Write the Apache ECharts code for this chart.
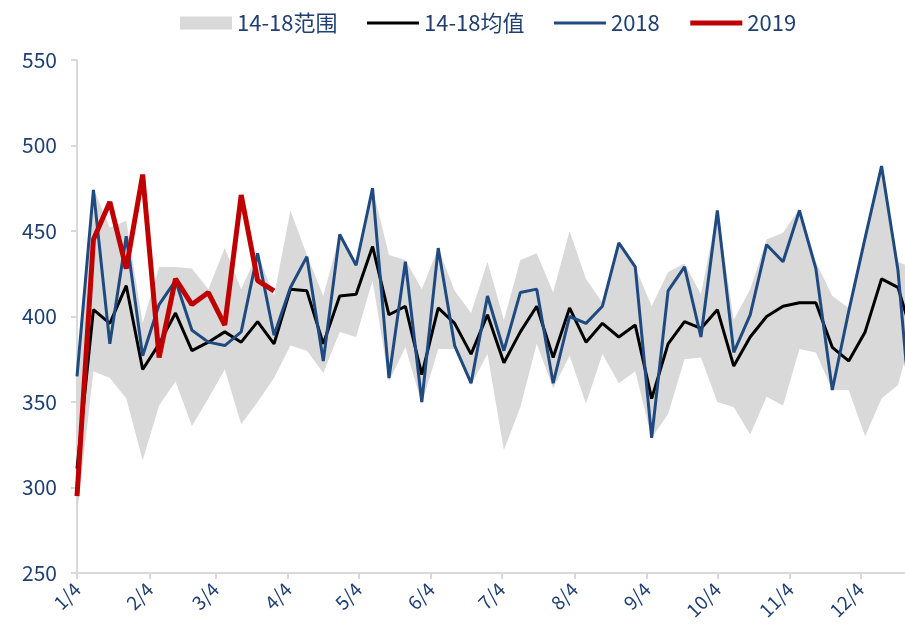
<!DOCTYPE html>
<html>
<head>
<meta charset="utf-8">
<script src="https://cdn.jsdelivr.net/npm/echarts@6/dist/echarts.min.js"></script>
<style>
  html, body { margin: 0; padding: 0; background: #fff; }
  #chart { width: 905px; height: 632px; }
</style>
</head>
<body>
<div id="chart"></div>
<script>
// days since 1/4, one point per week
const weekDays = [0, 7, 14, 21, 28, 35, 42, 49, 56, 63, 70, 77, 84, 91, 98, 105, 112, 119, 126, 133,
  140, 147, 154, 161, 168, 175, 182, 189, 196, 203, 210, 217, 224, 231, 238, 245, 252, 259, 266, 273,
  280, 287, 294, 301, 308, 315, 322, 329, 336, 343, 350, 357];
const monthDays = [0, 31, 59, 90, 120, 151, 181, 212, 243, 273, 304, 334];
const monthLabels = ["1/4", "2/4", "3/4", "4/4", "5/4", "6/4", "7/4", "8/4", "9/4", "10/4", "11/4", "12/4"];

const rangeMax = [366, 475, 452, 456, 396, 429, 429, 428, 416, 440, 416, 437, 412, 462, 436, 412, 448, 432, 475, 436,
  433, 416, 440, 415, 402, 432, 398, 433, 437, 414, 450, 422, 408, 443, 429, 406, 426, 431, 413, 462,
  398, 416, 445, 449, 463, 432, 412, 405, 446, 488, 432, 428];
const rangeMin = [284, 368, 364, 352, 316, 348, 362, 336, 352, 369, 337, 350, 364, 383, 380, 367, 391, 388, 421, 362,
  382, 349, 381, 381, 360, 378, 322, 347, 384, 358, 377, 349, 378, 361, 368, 329, 343, 375, 376, 350,
  347, 331, 353, 348, 381, 379, 357, 357, 330, 352, 360, 395];
const avg1418 = [311, 404, 396, 418, 369, 384, 402, 380, 385, 391, 385, 397, 384, 416, 415, 384, 412, 413, 441, 401,
  406, 366, 405, 396, 378, 401, 373, 391, 406, 376, 405, 385, 396, 388, 395, 352, 384, 397, 393, 404,
  371, 388, 400, 406, 408, 408, 382, 374, 391, 422, 417, 385];
const y2018 = [365, 474, 384, 447, 377, 407, 421, 392, 385, 383, 391, 437, 389, 417, 435, 374, 448, 430, 475, 364,
  432, 350, 440, 383, 361, 412, 380, 414, 416, 361, 400, 396, 406, 443, 429, 329, 415, 429, 388, 462,
  379, 401, 442, 432, 462, 428, 357, 403, 446, 488, 427, 318];
const y2019 = [295, 445, 467, 428, 483, 376, 422, 407, 414, 395, 471, 421, 415];

const textColor = "#1F3F73";
const axisColor = "#D9D9D9";

const pair = (vals) => vals.map((v, i) => [weekDays[i], v]);

// band between min and max, one polygon drawn with the axis scales
const renderBand = (params, api) => {
  if (params.dataIndex !== 0) return null;
  const top = rangeMax.map((v, i) => api.coord([weekDays[i], v]));
  const bottom = rangeMin.map((v, i) => api.coord([weekDays[i], v])).reverse();
  const cs = params.coordSys;
  return {
    type: "polygon",
    shape: { points: top.concat(bottom) },
    style: { fill: "#D9D9D9" },
    clipPath: { type: "rect", shape: { x: cs.x, y: cs.y, width: cs.width, height: cs.height } },
  };
};

const chart = echarts.init(document.getElementById("chart"));
chart.setOption({
  animation: false,
  textStyle: { fontFamily: "Noto Sans CJK SC" },
  grid: { left: 77, right: 0, top: 60, bottom: 59 },
  legend: {
    left: 175,
    top: 7,
    itemWidth: 52,
    itemHeight: 13,
    itemGap: 28,
    textStyle: { color: textColor, fontSize: 22 },
    data: [
      { name: "14-18范围", icon: "rect", itemStyle: { color: "#D9D9D9", opacity: 1 } },
      { name: "14-18均值", itemStyle: { opacity: 0 }, lineStyle: { width: 3 } },
      { name: "2018", itemStyle: { opacity: 0 }, lineStyle: { width: 3 } },
      { name: "2019", itemStyle: { opacity: 0 }, lineStyle: { width: 5 } },
    ],
  },
  xAxis: {
    type: "value",
    min: 0,
    max: 353,
    splitLine: { show: false },
    axisLine: { lineStyle: { color: axisColor, width: 2 } },
    axisTick: {
      customValues: monthDays,
      length: 6,
      lineStyle: { color: axisColor, width: 2 },
    },
    axisLabel: {
      customValues: monthDays,
      rotate: 45,
      margin: 13,
      color: textColor,
      fontSize: 19,
      formatter: (v) => monthLabels[monthDays.indexOf(Math.round(v))],
    },
  },
  yAxis: {
    type: "value",
    min: 250,
    max: 550,
    interval: 50,
    splitLine: { show: false },
    axisLine: { show: true, lineStyle: { color: axisColor, width: 2 } },
    axisTick: { show: true, length: 6, lineStyle: { color: axisColor, width: 2 } },
    axisLabel: { color: textColor, fontSize: 21, margin: 20 },
  },
  series: [
    {
      name: "14-18范围",
      type: "custom",
      renderItem: renderBand,
      data: weekDays.map((d) => [d]),
      itemStyle: { color: "#D9D9D9" },
      silent: true,
      z: 1,
    },
    {
      name: "14-18均值",
      type: "line",
      symbol: "none",
      data: pair(avg1418),
      itemStyle: { color: "#000000" },
      lineStyle: { color: "#000000", width: 3 },
    },
    {
      name: "2018",
      type: "line",
      symbol: "none",
      data: pair(y2018),
      itemStyle: { color: "#1F4A80" },
      lineStyle: { color: "#1F4A80", width: 3 },
    },
    {
      name: "2019",
      type: "line",
      symbol: "none",
      data: pair(y2019),
      itemStyle: { color: "#C00000" },
      lineStyle: { color: "#C00000", width: 5 },
    },
  ],
});
window.addEventListener("resize", () => {
  chart.resize();
});
</script>
</body>
</html>
